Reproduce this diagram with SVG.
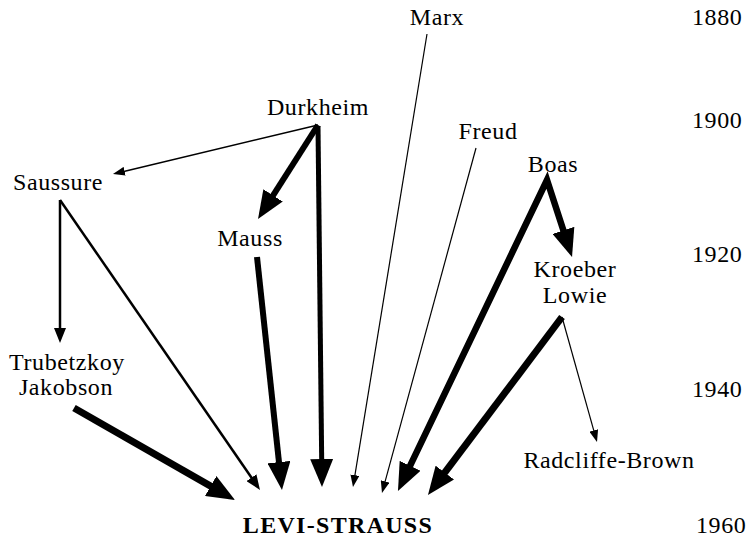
<svg xmlns="http://www.w3.org/2000/svg" width="754" height="539" viewBox="0 0 754 539">
<style>
  text { font-family: "Liberation Serif", "Times New Roman", serif; font-size: 24px; letter-spacing: 0.6px; fill: #000; }
  .c { text-anchor: middle; }
  .b { font-weight: bold; letter-spacing: 1.3px; }
  .edge { fill: none; stroke: #000; }
  .thin { stroke-width: 1.2; marker-end: url(#ah-s); }
  .med { stroke-width: 2.5; marker-end: url(#ah-m); }
  .thick { stroke-width: 6; marker-end: url(#ah-b); stroke-linejoin: miter; stroke-miterlimit: 20; }
</style>
<defs>
  <marker id="ah-s" markerUnits="userSpaceOnUse" markerWidth="12" markerHeight="9" refX="2" refY="4.5" orient="auto" viewBox="0 0 12 9">
    <path d="M0,0 L12,4.5 L0,9 Z" fill="#000"/>
  </marker>
  <marker id="ah-m" markerUnits="userSpaceOnUse" markerWidth="15" markerHeight="12" refX="2" refY="6" orient="auto" viewBox="0 0 15 12">
    <path d="M0,0 L15,6 L0,12 Z" fill="#000"/>
  </marker>
  <marker id="ah-b" markerUnits="userSpaceOnUse" markerWidth="28" markerHeight="23" refX="2" refY="11.5" orient="auto" viewBox="0 0 28 23">
    <path d="M0,0 L28,11.5 L0,23 Z" fill="#000"/>
  </marker>
  <marker id="ah-b-start" markerUnits="userSpaceOnUse" markerWidth="28" markerHeight="23" refX="2" refY="11.5" orient="auto-start-reverse" viewBox="0 0 28 23">
    <path d="M0,0 L28,11.5 L0,23 Z" fill="#000"/>
  </marker>
</defs>

<g id="connectors">
  <path id="e-marx-levi" class="edge thin" d="M427,34 L354.6,477.1"/>
  <path id="e-durkheim-saussure" class="edge thin" style="stroke-width:1.5" d="M318,125 L122.7,171.7"/>
  <path id="e-durkheim-mauss" class="edge thick" d="M318,125 L272,197.1"/>
  <path id="e-durkheim-levi" class="edge thick" style="stroke-width:5" d="M318,126 L321.7,461"/>
  <path id="e-mauss-levi" class="edge thick" d="M257,257 L279.2,464.1"/>
  <path id="e-saussure-trubetzkoy" class="edge med" d="M60,200 L60,330"/>
  <path id="e-saussure-levi" class="edge med" d="M60,200 L252.6,479.3"/>
  <path id="e-trubetzkoy-levi" class="edge thick" style="stroke-width:7" d="M74,408 L212.4,487.1"/>
  <path id="e-freud-levi" class="edge thin" d="M476,148 L384.6,483.4"/>
  <path id="e-boas" class="edge thick" style="stroke-width:6.5;marker-start:url(#ah-b-start)" d="M409.2,467.6 L547,180 L564,232.3"/>
  <path id="e-lowie-levi" class="edge thick" style="stroke-width:7" d="M562,317 L443.6,474.2"/>
  <path id="e-lowie-radcliffe" class="edge thin" d="M562,317 L594.3,432.4"/>
</g>

<g id="n-marx"><text class="c" x="437" y="25">Marx</text></g>
<g id="n-durkheim"><text class="c" x="318" y="115">Durkheim</text></g>
<g id="n-saussure"><text class="c" x="58" y="190">Saussure</text></g>
<g id="n-mauss"><text class="c" x="250" y="246">Mauss</text></g>
<g id="n-freud"><text class="c" x="488" y="139">Freud</text></g>
<g id="n-boas"><text class="c" x="553" y="172">Boas</text></g>
<g id="n-kroeber-lowie">
  <text class="c" x="575" y="277">Kroeber</text>
  <text class="c" x="575" y="303">Lowie</text>
</g>
<g id="n-trubetzkoy-jakobson">
  <text class="c" x="67" y="370">Trubetzkoy</text>
  <text class="c" x="66" y="395">Jakobson</text>
</g>
<g id="n-radcliffe-brown"><text class="c" x="609" y="468">Radcliffe-Brown</text></g>
<g id="n-levi-strauss"><text class="c b" x="338" y="533">LEVI-STRAUSS</text></g>

<g id="years">
  <text x="692" y="25">1880</text>
  <text x="692" y="128">1900</text>
  <text x="692" y="262">1920</text>
  <text x="692" y="397">1940</text>
  <text x="696" y="533">1960</text>
</g>
</svg>
